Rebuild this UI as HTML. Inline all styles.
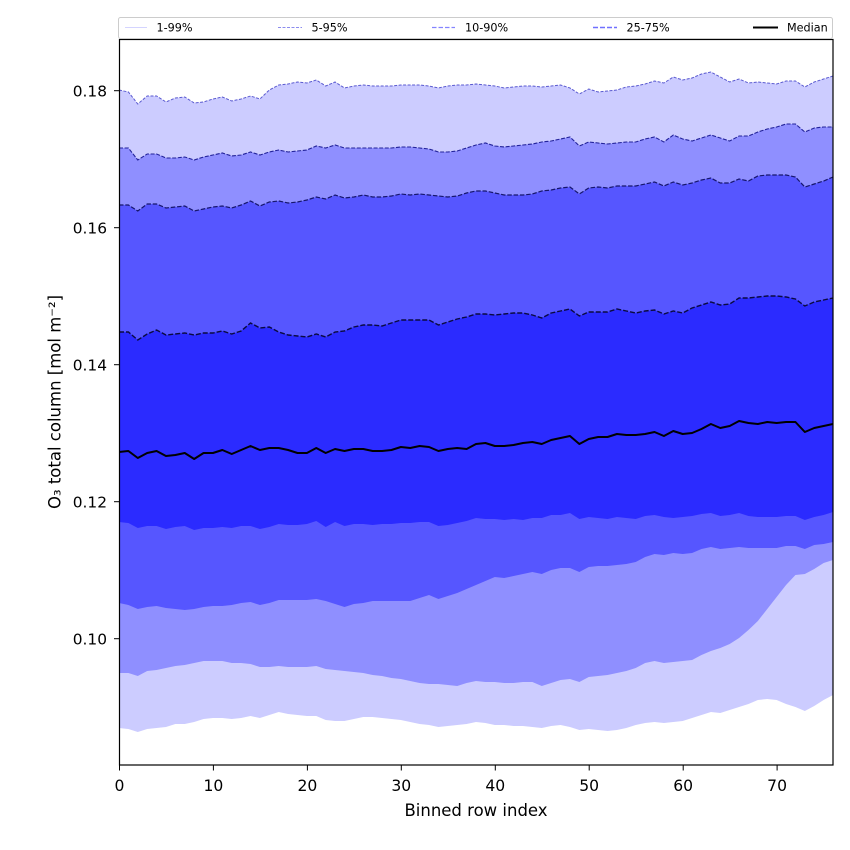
<!DOCTYPE html>
<html>
<head>
<meta charset="utf-8">
<style>
html,body{margin:0;padding:0;background:#fff;}
svg{display:block;}
text{font-family:"DejaVu Sans","Liberation Sans",sans-serif;fill:#000;}
</style>
</head>
<body>
<svg width="850" height="850" viewBox="0 0 850 850" xmlns="http://www.w3.org/2000/svg">
<rect x="0" y="0" width="850" height="850" fill="#fff"/>
<defs>
<clipPath id="ax"><rect x="119" y="39" width="714" height="726"/></clipPath>
</defs>
<g clip-path="url(#ax)">
<g transform="translate(119 0) scale(9.395 1)">
<!-- p99 area -->
<path fill="#ccccff" d="M0,90 1,92 2,104 3,96 4,96 5,102 6,98 7,97 8,103 9,102 10,99 11,97 12,101 13,99 14,96 15,99 16,90 17,85 18,84 19,82 20,83 21,80 22,86 23,82 24,88 25,86 26,85 27,86 28,86 29,86 30,85 31,85 32,85 33,86 34,88 35,86 36,85 37,85 38,84 39,85 40,86 41,88 42,87 43,86 44,86 45,87 46,86 47,85 48,88 49,94 50,89 51,92 52,91 53,90 54,87 55,86 56,84 57,81 58,83 59,77 60,80 61,78 62,74 63,72 64,77 65,82 66,79 67,83 68,82 69,83 70,84 71,81 72,81 73,87 74,82 75,79 76,76 76,765 0,765Z"/>
<!-- p95 area -->
<path fill="#8f8fff" d="M0,148 1,148 2,160 3,154 4,154 5,158 6,158 7,157 8,160 9,157 10,155 11,153 12,156 13,155 14,152 15,155 16,152 17,150 18,152 19,151 20,150 21,146 22,148 23,145 24,148 25,148 26,148 27,148 28,148 29,148 30,147 31,147 32,148 33,149 34,152 35,152 36,151 37,148 38,145 39,143 40,146 41,147 42,146 43,145 44,144 45,142 46,141 47,139 48,137 49,146 50,142 51,143 52,144 53,143 54,142 55,142 56,139 57,137 58,142 59,135 60,139 61,141 62,138 63,135 64,138 65,141 66,136 67,136 68,132 69,129 70,127 71,124 72,124 73,132 74,128 75,127 76,127 76,765 0,765Z"/>
<!-- p90 area -->
<path fill="#5656ff" d="M0,205 1,205 2,211 3,204 4,204 5,208 6,207 7,206 8,211 9,209 10,207 11,206 12,208 13,205 14,201 15,206 16,202 17,201 18,203 19,202 20,200 21,197 22,199 23,195 24,198 25,197 26,195 27,197 28,197 29,196 30,194 31,195 32,194 33,195 34,196 35,197 36,196 37,193 38,191 39,191 40,193 41,195 42,195 43,195 44,194 45,191 46,190 47,188 48,187 49,194 50,188 51,187 52,188 53,186 54,186 55,186 56,184 57,182 58,186 59,182 60,185 61,183 62,180 63,178 64,183 65,183 66,179 67,181 68,176 69,175 70,175 71,175 72,177 73,187 74,184 75,181 76,177 76,765 0,765Z"/>
<!-- p75 area -->
<path fill="#2b2bff" d="M0,332 1,332 2,340 3,334 4,330 5,335 6,334 7,333 8,335 9,333 10,333 11,331 12,334 13,331 14,323 15,328 16,327 17,332 18,335 19,336 20,337 21,334 22,337 23,332 24,331 25,327 26,325 27,325 28,326 29,323 30,320 31,320 32,320 33,320 34,325 35,322 36,319 37,317 38,314 39,314 40,315 41,314 42,313 43,313 44,315 45,318 46,313 47,311 48,309 49,316 50,312 51,312 52,312 53,309 54,311 55,313 56,311 57,310 58,314 59,311 60,313 61,308 62,305 63,302 64,305 65,304 66,298 67,298 68,297 69,296 70,296 71,297 72,299 73,306 74,302 75,300 76,298 76,765 0,765Z"/>
<!-- p25 area -->
<path fill="#5656ff" d="M0,522 1,523 2,528 3,526 4,526 5,529 6,527 7,526 8,530 9,528 10,528 11,527 12,528 13,526 14,526 15,529 16,527 17,524 18,525 19,525 20,524 21,521 22,527 23,522 24,526 25,524 26,524 27,525 28,524 29,524 30,523 31,523 32,522 33,522 34,526 35,525 36,523 37,521 38,518 39,519 40,519 41,520 42,519 43,520 44,518 45,518 46,515 47,515 48,513 49,519 50,517 51,518 52,519 53,517 54,518 55,519 56,516 57,515 58,517 59,518 60,517 61,516 62,514 63,513 64,516 65,515 66,513 67,516 68,517 69,517 70,517 71,516 72,516 73,520 74,517 75,515 76,512 76,765 0,765Z"/>
<!-- p10 area -->
<path fill="#8f8fff" d="M0,603 1,605 2,609 3,607 4,606 5,608 6,609 7,610 8,609 9,607 10,606 11,606 12,605 13,603 14,602 15,605 16,603 17,600 18,600 19,600 20,600 21,599 22,601 23,604 24,607 25,604 26,603 27,601 28,601 29,601 30,601 31,601 32,598 33,595 34,599 35,596 36,593 37,589 38,585 39,581 40,577 41,578 42,576 43,574 44,572 45,574 46,570 47,568 48,568 49,572 50,567 51,566 52,566 53,565 54,564 55,562 56,557 57,554 58,555 59,553 60,554 61,553 62,549 63,547 64,549 65,548 66,547 67,548 68,548 69,548 70,548 71,546 72,546 73,549 74,545 75,544 76,542 76,765 0,765Z"/>
<!-- p5 area -->
<path fill="#ccccff" d="M0,673 1,673 2,676 3,671 4,670 5,668 6,666 7,665 8,663 9,661 10,661 11,661 12,663 13,663 14,664 15,667 16,667 17,666 18,667 19,667 20,667 21,666 22,669 23,670 24,671 25,672 26,673 27,675 28,676 29,678 30,679 31,681 32,683 33,684 34,684 35,685 36,686 37,683 38,681 39,682 40,682 41,683 42,683 43,682 44,682 45,686 46,683 47,680 48,679 49,682 50,677 51,676 52,675 53,673 54,671 55,668 56,663 57,661 58,663 59,662 60,661 61,660 62,655 63,651 64,648 65,644 66,638 67,630 68,621 69,609 70,597 71,585 72,575 73,574 74,569 75,563 76,560 76,765 0,765Z"/>
<!-- p1 area -->
<path fill="#ffffff" d="M0,728 1,729 2,732 3,729 4,728 5,727 6,724 7,724 8,722 9,719 10,718 11,718 12,719 13,718 14,716 15,718 16,715 17,712 18,714 19,715 20,716 21,716 22,720 23,721 24,721 25,719 26,717 27,717 28,718 29,719 30,720 31,722 32,724 33,725 34,727 35,726 36,725 37,724 38,722 39,723 40,725 41,725 42,726 43,726 44,727 45,728 46,726 47,725 48,727 49,730 50,729 51,730 52,731 53,730 54,728 55,725 56,723 57,722 58,723 59,722 60,721 61,718 62,715 63,712 64,713 65,710 66,707 67,704 68,700 69,699 70,700 71,704 72,707 73,711 74,706 75,700 76,695 76,766 0,766Z"/>

<!-- lines -->
<path fill="none" stroke="#5a5ad0" stroke-width="1" stroke-dasharray="3 1.5" vector-effect="non-scaling-stroke" d="M0,90 1,92 2,104 3,96 4,96 5,102 6,98 7,97 8,103 9,102 10,99 11,97 12,101 13,99 14,96 15,99 16,90 17,85 18,84 19,82 20,83 21,80 22,86 23,82 24,88 25,86 26,85 27,86 28,86 29,86 30,85 31,85 32,85 33,86 34,88 35,86 36,85 37,85 38,84 39,85 40,86 41,88 42,87 43,86 44,86 45,87 46,86 47,85 48,88 49,94 50,89 51,92 52,91 53,90 54,87 55,86 56,84 57,81 58,83 59,77 60,80 61,78 62,74 63,72 64,77 65,82 66,79 67,83 68,82 69,83 70,84 71,81 72,81 73,87 74,82 75,79 76,76"/>
<path fill="none" stroke="#22229a" stroke-width="1.1" stroke-dasharray="4 1.6" vector-effect="non-scaling-stroke" d="M0,148 1,148 2,160 3,154 4,154 5,158 6,158 7,157 8,160 9,157 10,155 11,153 12,156 13,155 14,152 15,155 16,152 17,150 18,152 19,151 20,150 21,146 22,148 23,145 24,148 25,148 26,148 27,148 28,148 29,148 30,147 31,147 32,148 33,149 34,152 35,152 36,151 37,148 38,145 39,143 40,146 41,147 42,146 43,145 44,144 45,142 46,141 47,139 48,137 49,146 50,142 51,143 52,144 53,143 54,142 55,142 56,139 57,137 58,142 59,135 60,139 61,141 62,138 63,135 64,138 65,141 66,136 67,136 68,132 69,129 70,127 71,124 72,124 73,132 74,128 75,127 76,127"/>
<path fill="none" stroke="#16166c" stroke-width="1.2" stroke-dasharray="4.5 1.8" vector-effect="non-scaling-stroke" d="M0,205 1,205 2,211 3,204 4,204 5,208 6,207 7,206 8,211 9,209 10,207 11,206 12,208 13,205 14,201 15,206 16,202 17,201 18,203 19,202 20,200 21,197 22,199 23,195 24,198 25,197 26,195 27,197 28,197 29,196 30,194 31,195 32,194 33,195 34,196 35,197 36,196 37,193 38,191 39,191 40,193 41,195 42,195 43,195 44,194 45,191 46,190 47,188 48,187 49,194 50,188 51,187 52,188 53,186 54,186 55,186 56,184 57,182 58,186 59,182 60,185 61,183 62,180 63,178 64,183 65,183 66,179 67,181 68,176 69,175 70,175 71,175 72,177 73,187 74,184 75,181 76,177"/>
<path fill="none" stroke="#0a0a40" stroke-width="1.4" stroke-dasharray="5 2" vector-effect="non-scaling-stroke" d="M0,332 1,332 2,340 3,334 4,330 5,335 6,334 7,333 8,335 9,333 10,333 11,331 12,334 13,331 14,323 15,328 16,327 17,332 18,335 19,336 20,337 21,334 22,337 23,332 24,331 25,327 26,325 27,325 28,326 29,323 30,320 31,320 32,320 33,320 34,325 35,322 36,319 37,317 38,314 39,314 40,315 41,314 42,313 43,313 44,315 45,318 46,313 47,311 48,309 49,316 50,312 51,312 52,312 53,309 54,311 55,313 56,311 57,310 58,314 59,311 60,313 61,308 62,305 63,302 64,305 65,304 66,298 67,298 68,297 69,296 70,296 71,297 72,299 73,306 74,302 75,300 76,298"/>
<path fill="none" stroke="#000" stroke-width="2" stroke-linejoin="round" vector-effect="non-scaling-stroke" d="M0,452 1,451 2,458 3,453 4,451 5,456 6,455 7,453 8,459 9,453 10,453 11,450 12,454 13,450 14,446 15,450 16,448 17,448 18,450 19,453 20,453 21,448 22,453 23,449 24,451 25,449 26,449 27,451 28,451 29,450 30,447 31,448 32,446 33,447 34,451 35,449 36,448 37,449 38,444 39,443 40,446 41,446 42,445 43,443 44,442 45,444 46,440 47,438 48,436 49,444 50,439 51,437 52,437 53,434 54,435 55,435 56,434 57,432 58,436 59,431 60,434 61,433 62,429 63,424 64,428 65,426 66,421 67,423 68,424 69,422 70,423 71,422 72,422 73,432 74,428 75,426 76,424"/>
</g>
</g>

<!-- spines -->
<rect x="119.5" y="39.5" width="713.5" height="725.5" fill="none" stroke="#000" stroke-width="1.2"/>

<!-- legend -->
<rect x="118.5" y="17.5" width="714" height="21" rx="2" fill="#fff" stroke="#cccccc" stroke-width="1"/>
<line x1="125" y1="27.5" x2="147" y2="27.5" stroke="#d4d4ff" stroke-width="1"/>
<text x="156.5" y="31.5" font-size="11.2">1-99%</text>
<line x1="278" y1="27.5" x2="302" y2="27.5" stroke="#8c8cee" stroke-width="1" stroke-dasharray="3 1.5"/>
<text x="311.5" y="31.5" font-size="11.2">5-95%</text>
<line x1="432" y1="27.5" x2="455" y2="27.5" stroke="#8484ff" stroke-width="1.3" stroke-dasharray="4.5 2"/>
<text x="465" y="31.5" font-size="11.2">10-90%</text>
<line x1="593" y1="27.5" x2="617" y2="27.5" stroke="#7070ff" stroke-width="1.6" stroke-dasharray="5 2"/>
<text x="626.5" y="31.5" font-size="11.2">25-75%</text>
<line x1="753" y1="27.5" x2="778" y2="27.5" stroke="#000" stroke-width="2"/>
<text x="787" y="31.5" font-size="11.2">Median</text>

<!-- y ticks -->
<g stroke="#000" stroke-width="1">
<line x1="114" y1="90.7" x2="119" y2="90.7"/>
<line x1="114" y1="227.7" x2="119" y2="227.7"/>
<line x1="114" y1="364.7" x2="119" y2="364.7"/>
<line x1="114" y1="501.7" x2="119" y2="501.7"/>
<line x1="114" y1="638.7" x2="119" y2="638.7"/>
</g>
<g font-size="15.4" text-anchor="end">
<text x="107" y="96.3">0.18</text>
<text x="107" y="233.3">0.16</text>
<text x="107" y="370.3">0.14</text>
<text x="107" y="507.3">0.12</text>
<text x="107" y="644.3">0.10</text>
</g>

<!-- x ticks -->
<g stroke="#000" stroke-width="1">
<line x1="119.5" y1="765" x2="119.5" y2="770.5"/>
<line x1="213.4" y1="765" x2="213.4" y2="770.5"/>
<line x1="307.4" y1="765" x2="307.4" y2="770.5"/>
<line x1="401.3" y1="765" x2="401.3" y2="770.5"/>
<line x1="495.3" y1="765" x2="495.3" y2="770.5"/>
<line x1="589.2" y1="765" x2="589.2" y2="770.5"/>
<line x1="683.2" y1="765" x2="683.2" y2="770.5"/>
<line x1="777.1" y1="765" x2="777.1" y2="770.5"/>
</g>
<g font-size="15.6" text-anchor="middle">
<text x="119.5" y="791">0</text>
<text x="213.4" y="791">10</text>
<text x="307.4" y="791">20</text>
<text x="401.3" y="791">30</text>
<text x="495.3" y="791">40</text>
<text x="589.2" y="791">50</text>
<text x="683.2" y="791">60</text>
<text x="777.1" y="791">70</text>
</g>

<!-- axis labels -->
<text x="476" y="816" font-size="16.5" text-anchor="middle">Binned row index</text>
<text transform="translate(60.5 402) rotate(-90)" font-size="16.5" text-anchor="middle">O₃ total column [mol m⁻²]</text>
</svg>
</body>
</html>
